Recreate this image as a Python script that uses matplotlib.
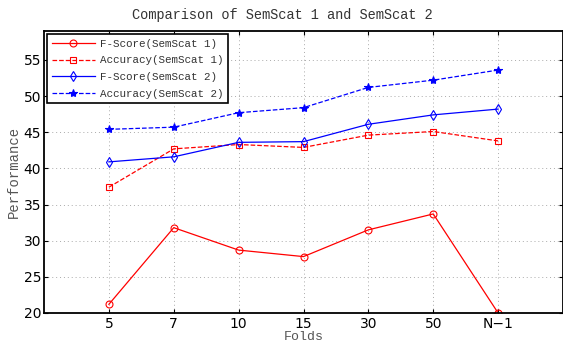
import matplotlib
matplotlib.use("Agg")
import matplotlib.pyplot as plt

folds = ["5", "7", "10", "15", "30", "50", "N\u22121"]
fscore_s1 = [21.2, 31.8, 28.7, 27.8, 31.5, 33.7, 20.0]
acc_s1 = [37.4, 42.7, 43.3, 42.9, 44.6, 45.1, 43.8]
fscore_s2 = [40.9, 41.6, 43.6, 43.7, 46.1, 47.4, 48.2]
acc_s2 = [45.4, 45.7, 47.7, 48.4, 51.2, 52.2, 53.6]

mono = "Liberation Mono"
x = range(1, len(folds) + 1)

fig = plt.figure(figsize=(5.63, 3.42), dpi=100)
ax = fig.add_axes([44 / 563, 1 - 313 / 342, 519 / 563, 282 / 342])

ax.plot(x, fscore_s1, '-', color='#ff0000', lw=0.9, marker='o', ms=5, mew=0.8,
        mfc='none', mec='#ff0000', label='F-Score(SemScat 1)')
ax.plot(x, acc_s1, '--', color='#ff0000', lw=0.9, marker='s', ms=5, mew=0.8,
        mfc='none', mec='#ff0000', label='Accuracy(SemScat 1)')
ax.plot(x, fscore_s2, '-', color='#0000ff', lw=0.9, marker='d', ms=5, mew=0.8,
        mfc='none', mec='#0000ff', label='F-Score(SemScat 2)')
ax.plot(x, acc_s2, '--', color='#0000ff', lw=0.9, marker='*', ms=6, mew=0.8,
        mfc='#0000ff', mec='#0000ff', label='Accuracy(SemScat 2)')

ax.set_xlim(0, 8)
ax.set_ylim(20, 59)
ax.set_xticks(list(x))
ax.set_xticklabels(folds)
ax.set_yticks(range(20, 56, 5))
ax.tick_params(direction='in', top=True, right=True, labelsize=10, length=3, pad=2)
ax.tick_params(axis='x', pad=3)
ax.grid(True, linestyle=(0, (1, 3)), color='#aaaaaa', lw=0.7)
for s in ax.spines.values():
    s.set_linewidth(1.3)

ax.set_title("Comparison of SemScat 1 and SemScat 2", family=mono, fontsize=9.8,
             color='#333333', x=0.459, pad=9)
ax.set_xlabel("Folds", family=mono, fontsize=9.5, color='#555555', labelpad=0)
ax.set_ylabel("Performance", family=mono, fontsize=10, color='#555555', labelpad=2)

leg = ax.legend(loc='upper left', prop={'family': mono, 'size': 7.8},
                handlelength=4, handletextpad=0.5, labelspacing=0.62,
                borderaxespad=0.3, fancybox=False, framealpha=1,
                edgecolor='black')
leg.get_frame().set_linewidth(1.2)
for t in leg.get_texts():
    t.set_color('#333333')

fig.savefig("out.png", dpi=100)
